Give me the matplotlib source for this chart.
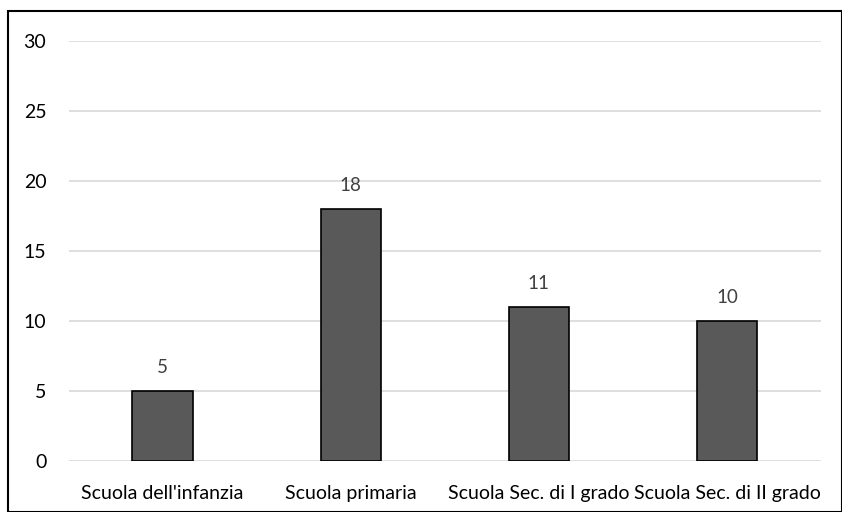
import matplotlib.pyplot as plt
import matplotlib.patches as patches

plt.rcParams["font.family"] = ["Lato", "DejaVu Sans"]

categorie = ["Scuola dell'infanzia", "Scuola primaria",
             "Scuola Sec. di I grado", "Scuola Sec. di II grado"]
valori = [5, 18, 11, 10]
y_ticks = [0, 5, 10, 15, 20, 25, 30]

fig = plt.figure(figsize=(8.42, 5.12), dpi=100)
ax = fig.add_axes([68.5 / 842, 1 - 461 / 512, (821 - 68.5) / 842, (461 - 41) / 512])

x = range(len(categorie))
bars = ax.bar(x, valori, width=0.32, color="#595959", edgecolor="black",
              linewidth=1.2, zorder=3)

for b, v in zip(bars, valori):
    ax.annotate(str(v), (b.get_x() + b.get_width() / 2, v),
                xytext=(0, 11), textcoords="offset points",
                ha="center", va="bottom", fontsize=13.5, color="#404040")

ax.set_xlim(-0.5, len(categorie) - 0.5)
ax.set_ylim(0, 30)
ax.set_yticks(y_ticks)
ax.set_xticks(list(x))
ax.set_xticklabels(categorie)
ax.tick_params(axis="both", length=0, labelsize=14, colors="black")
ax.tick_params(axis="y", pad=16)
ax.tick_params(axis="x", pad=17)
ax.yaxis.grid(True, color="#d9d9d9", linewidth=1.2, zorder=0)
for s in ax.spines.values():
    s.set_visible(False)

# cornice del grafico
fig.patches.append(patches.Rectangle((8 / 842, 0), 1 - 8.5 / 842, 1 - 10.5 / 512,
                                     transform=fig.transFigure, fill=False,
                                     edgecolor="black", linewidth=1.5))

fig.savefig("out.png", dpi=100)
